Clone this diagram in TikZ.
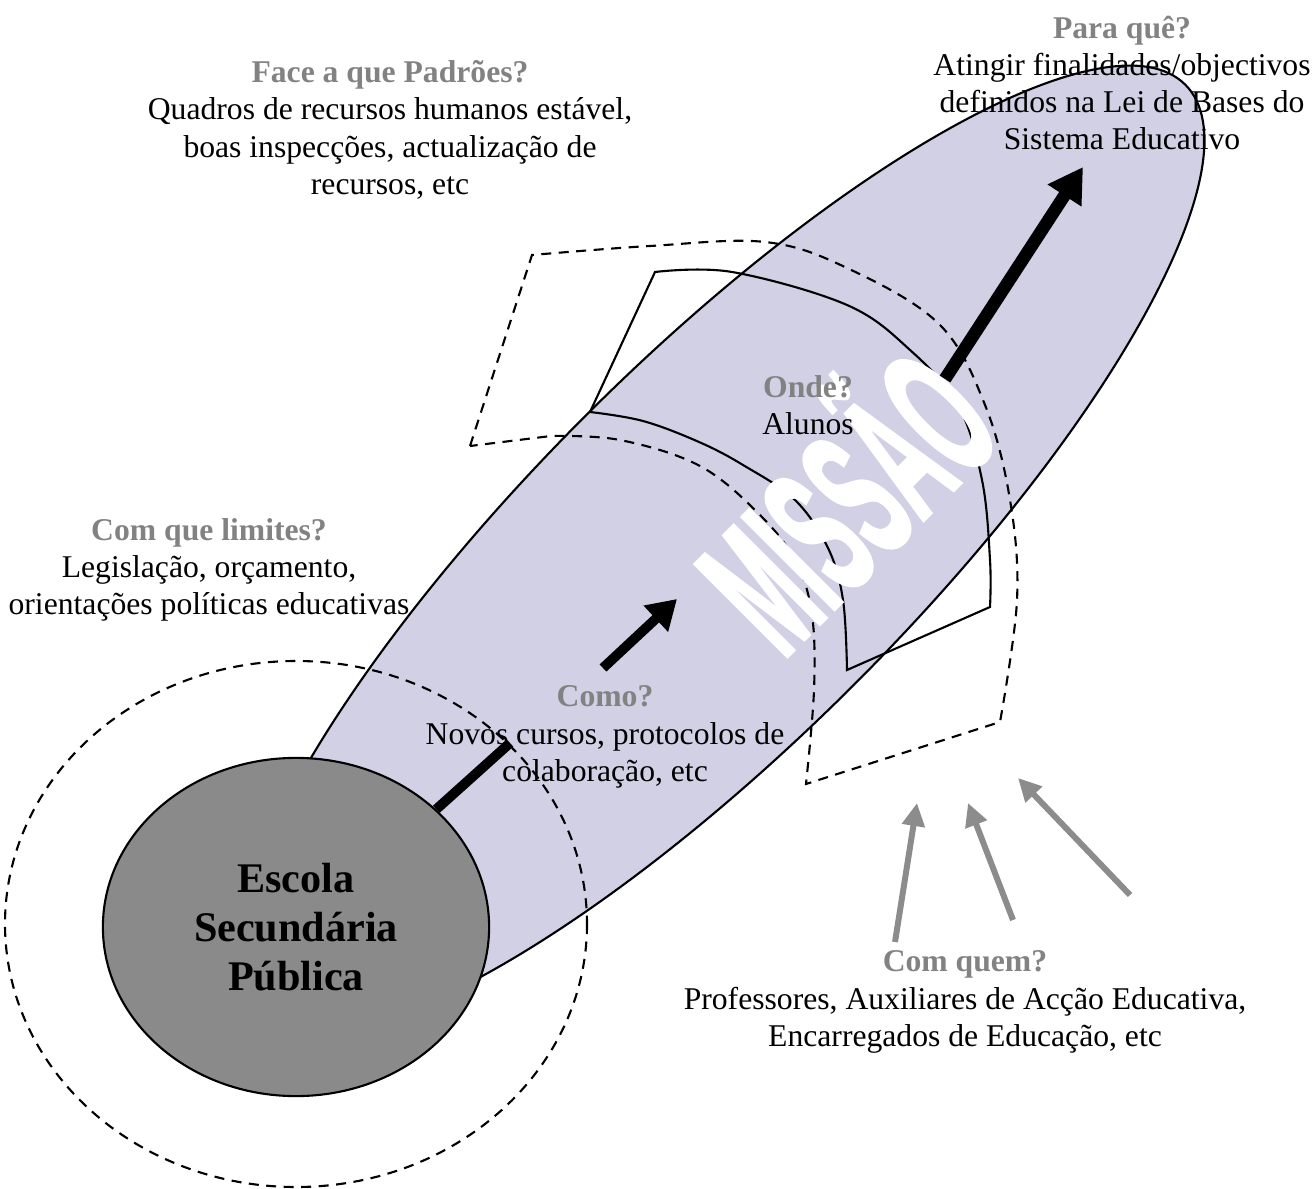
\documentclass[tikz,border=0pt]{standalone}
\usepackage{fontspec}
\setmainfont{Liberation Serif}
\newfontfamily\missfont[FakeBold=2.5]{Liberation Sans}
\usepackage{tikz}
\usetikzlibrary{arrows.meta,positioning,shapes.geometric}
\definecolor{missaocol}{RGB}{210,208,228}
\definecolor{escolacol}{RGB}{138,138,138}
\definecolor{askcol}{RGB}{130,130,130}
\definecolor{greyarrow}{RGB}{140,140,140}
\newcommand{\pergunta}[1]{{\color{askcol}\bfseries #1}}
\tikzset{
  txt/.style      ={align=center, inner sep=0pt, font=\fontsize{9}{10.6}\selectfont},
  escolanode/.style={ellipse, draw=black, line width=0.6pt, fill=escolacol, inner sep=0pt,
                    minimum width=3.86cm, minimum height=3.38cm, align=center,
                    font=\fontsize{12}{13.9}\selectfont\bfseries},
  zone/.style     ={draw=black, line width=0.6pt, dash pattern=on 1mm off 0.75mm},
  ondeline/.style ={draw=black, line width=0.6pt},
  missword/.style ={text=white, inner sep=0pt, rotate=45, xscale=0.76, yscale=1.78,
                    font=\missfont\fontsize{30}{30}\selectfont\bfseries},
  stem/.style     ={line width=2.8pt},
  bigflow/.style  ={line width=3.6pt, -{Triangle[length=3.4mm,width=3.8mm]}},
  midflow/.style  ={line width=2.8pt, -{Triangle[length=2.9mm,width=3.4mm]}},
  greyflow/.style ={draw=greyarrow, line width=1.7pt, -{Triangle[length=2.3mm,width=2.2mm]}},
}
\begin{document}
\begin{tikzpicture}[x=0.01cm, y=-0.01cm]
  \useasboundingbox (0,0) rectangle (1316,1189);
  % mission ellipse
  \draw[ondeline, fill=missaocol, rotate around={45:(720,550)}] (720,550) ellipse [x radius=658, y radius=190];
  \draw[zone] (296,924) ellipse [x radius=291, y radius=263];
  \node[escolanode] (escola) at (296,927) {Escola\\Secund\'aria\\P\'ublica};
  % dashed and solid arcs
  \draw[zone] (470,446) -- (532,255) -- plot[smooth, tension=0.6] coordinates {(532,255) (650,246) (765,242) (847,268) (939,324) (985,405) (1010,500) (1017,600) (1000,722)}
     -- (806,784) -- plot[smooth, tension=0.6] coordinates {(806,784) (814,690) (812,615) (796,562) (760,515) (700,466) (620,440) (551,436)} -- cycle;
  \draw[ondeline] (590,412) -- (655,272) -- plot[smooth, tension=0.6] coordinates {(655,272) (732,272) (847,305) (910,350) (958,405) (982,480) (990,560) (990,607)}
     -- (847,670) -- plot[smooth, tension=0.6] coordinates {(847,670) (843,600) (828,548) (795,500) (743,465) (699,442) (643,421) (590,412)};
  \coordinate (mcentre) at (836,490);
  \node[missword] (missao) at (mcentre) {MISSÃO};
  % arrows
  \coordinate (stemend) at (510,743);
  \coordinate (midtail) at (603,668);
  \coordinate (midtip) at (677,599);
  \coordinate (toptail) at (945,379);
  \coordinate (toptip) at (1083,167);
  \draw[stem] (escola.40) -- (stemend);
  \draw[midflow] (midtail) -- (midtip);
  \draw[bigflow] (toptail) -- (toptip);
  \coordinate (q1) at (895,942);  \coordinate (p1) at (917,803);
  \coordinate (q2) at (1013,920); \coordinate (p2) at (968,803);
  \coordinate (q3) at (1130,895); \coordinate (p3) at (1018,778);
  \draw[greyflow] (q1) -- (p1);
  \draw[greyflow] (q2) -- (p2);
  \draw[greyflow] (q3) -- (p3);
  % texts
  \node[txt] (paraque) at (1122,83) {\pergunta{Para quê?}\\Atingir finalidades/objectivos\\definidos na Lei de Bases do\\Sistema Educativo};
  \node[txt] (padroes) at (390,130) {\pergunta{Face a que Padrões?}\\Quadros de recursos humanos estável,\\boas inspecções, actualização de\\recursos, etc};
  \node[txt] (onde) at (808,405) {\pergunta{Onde?}\\Alunos};
  \node[txt] (limites) at (209,570) {\pergunta{Com que limites?}\\Legislação, orçamento,\\orientações políticas educativas};
  \node[txt] (como) at (605,737) {\pergunta{Como?}\\Novos cursos, protocolos de\\colaboração, etc};
  \node[txt] (quem) at (965,1002) {\pergunta{Com quem?}\\Professores, Auxiliares de Acção Educativa,\\Encarregados de Educação, etc};
\end{tikzpicture}
\end{document}
